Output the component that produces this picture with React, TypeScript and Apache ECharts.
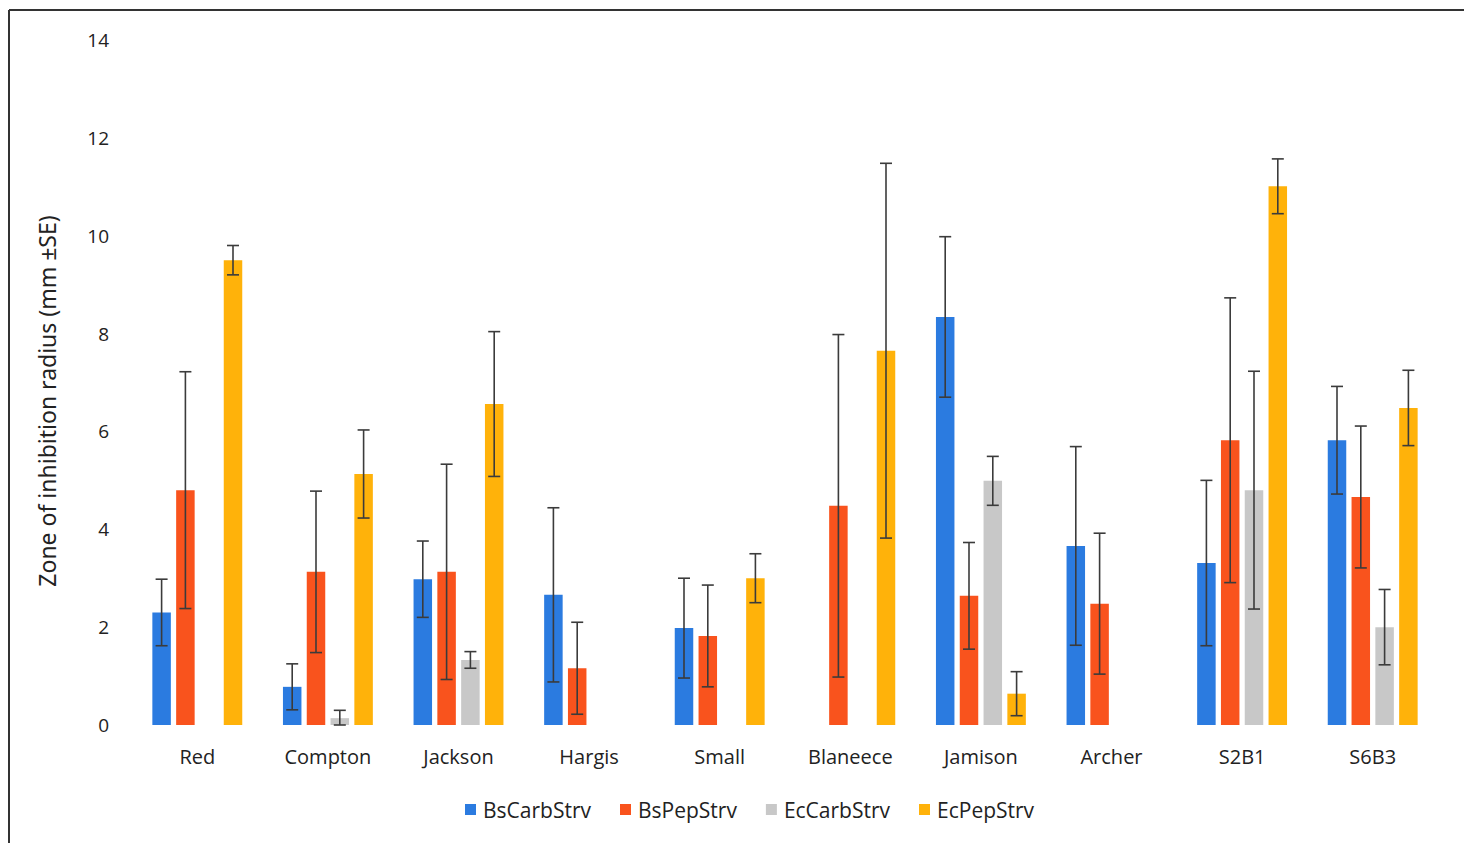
import React, { useEffect, useRef } from "react";
import * as echarts from "echarts";

const categories = ["Red", "Compton", "Jackson", "Hargis", "Small", "Blaneece", "Jamison", "Archer", "S2B1", "S6B3"];
const seriesNames = ["BsCarbStrv", "BsPepStrv", "EcCarbStrv", "EcPepStrv"];
const bsCarb = [2.3, 0.78, 2.98, 2.66, 1.98, null, 8.34, 3.66, 3.31, 5.82];
const bsCarbSE = [0.68, 0.47, 0.78, 1.78, 1.02, null, 1.64, 2.03, 1.69, 1.1];
const bsPep = [4.8, 3.13, 3.13, 1.16, 1.82, 4.48, 2.64, 2.48, 5.82, 4.66];
const bsPepSE = [2.42, 1.65, 2.2, 0.94, 1.04, 3.5, 1.09, 1.44, 2.91, 1.45];
const ecCarb = [null, 0.14, 1.33, null, null, null, 4.99, null, 4.8, 2.0];
const ecCarbSE = [null, 0.16, 0.17, null, null, null, 0.5, null, 2.43, 0.77];
const ecPep = [9.5, 5.13, 6.56, null, 3.0, 7.65, 0.64, null, 11.01, 6.48];
const ecPepSE = [0.3, 0.9, 1.48, null, 0.5, 3.83, 0.45, null, 0.56, 0.77];
const yTicks = { min: 0, max: 14, interval: 2 };
const yAxisTitle = "Zone of inhibition radius (mm ±SE)";

const colors = ["#2B7BE0", "#F9531D", "#C8C8C8", "#FFB20A"];
const FONT = "'Open Sans', 'Noto Sans', sans-serif";
const BAR_W = 18.5;
const BAR_GAP_PX = 5.3;

export default function App() {
  const ref = useRef<HTMLDivElement>(null);
  useEffect(() => {
    document.body.style.margin = "0";
    const chart = echarts.init(ref.current!, null, { renderer: "svg" });
    const values = [bsCarb, bsPep, ecCarb, ecPep];
    const errs = [bsCarbSE, bsPepSE, ecCarbSE, ecPepSE];
    const step = BAR_W + BAR_GAP_PX;

    const barSeries = seriesNames.map((name, i) => ({
      name,
      type: "bar",
      data: values[i].map((v) => (v == null ? "-" : v)),
      barWidth: BAR_W,
      barGap: (BAR_GAP_PX / BAR_W) * 100 + "%",
      itemStyle: { color: colors[i] },
      z: 2,
    }));

    const errSeries = seriesNames.map((name, i) => ({
      name: name + "_err",
      type: "custom",
      z: 5,
      silent: true,
      encode: { x: 0, y: 1 },
      data: values[i]
        .map((v, k) => (v == null ? null : [k, v, errs[i][k]]))
        .filter((d) => d != null),
      renderItem: (params: any, api: any) => {
        const c = api.value(0);
        const v = api.value(1);
        const e = api.value(2);
        const off = (i - 1.5) * step;
        const pTop = api.coord([c, v + e]);
        const pBot = api.coord([c, Math.max(0, v - e)]);
        const x = pTop[0] + off;
        const cap = 6;
        const style = { stroke: "#3b3b3b", lineWidth: 1.6 };
        return {
          type: "group",
          children: [
            { type: "line", shape: { x1: x, y1: pTop[1], x2: x, y2: pBot[1] }, style },
            { type: "line", shape: { x1: x - cap, y1: pTop[1], x2: x + cap, y2: pTop[1] }, style },
            { type: "line", shape: { x1: x - cap, y1: pBot[1], x2: x + cap, y2: pBot[1] }, style },
          ],
        };
      },
    }));

    chart.setOption({
      animation: false,
      backgroundColor: "#ffffff",
      textStyle: { fontFamily: FONT },
      grid: { left: 132, right: 26, top: 40, bottom: 118, containLabel: false },
      legend: {
        data: seriesNames,
        bottom: 18,
        left: 460,
        itemWidth: 11,
        itemHeight: 11,
        itemGap: 29,
        icon: "rect",
        textStyle: { fontSize: 21, color: "#222", fontFamily: FONT, padding: [0, 0, 0, 2] },
      },
      xAxis: {
        type: "category",
        data: categories,
        axisLine: { show: false },
        axisTick: { show: false },
        axisLabel: { fontSize: 20, color: "#222", margin: 21, fontFamily: FONT },
      },
      yAxis: {
        type: "value",
        min: yTicks.min,
        max: yTicks.max,
        interval: yTicks.interval,
        splitLine: { show: false },
        axisLine: { show: false },
        axisTick: { show: false },
        axisLabel: { fontSize: 19, color: "#222", margin: 23, fontFamily: FONT },
      },
      graphic: [
        { type: "line", shape: { x1: 9, y1: 10, x2: 1464, y2: 10 }, style: { stroke: "#333", lineWidth: 2 } },
        { type: "line", shape: { x1: 9, y1: 10, x2: 9, y2: 843 }, style: { stroke: "#333", lineWidth: 2 } },
        {
          type: "text",
          x: 47,
          y: 401,
          rotation: Math.PI / 2,
          style: {
            text: yAxisTitle,
            fontSize: 23,
            fill: "#222",
            fontFamily: "'Noto Sans', sans-serif",
            align: "center",
            verticalAlign: "middle",
          },
        },
      ],
      series: [...barSeries, ...errSeries],
    });
    return () => chart.dispose();
  }, []);
  return <div ref={ref} style={{ width: 1464, height: 843 }} />;
}
